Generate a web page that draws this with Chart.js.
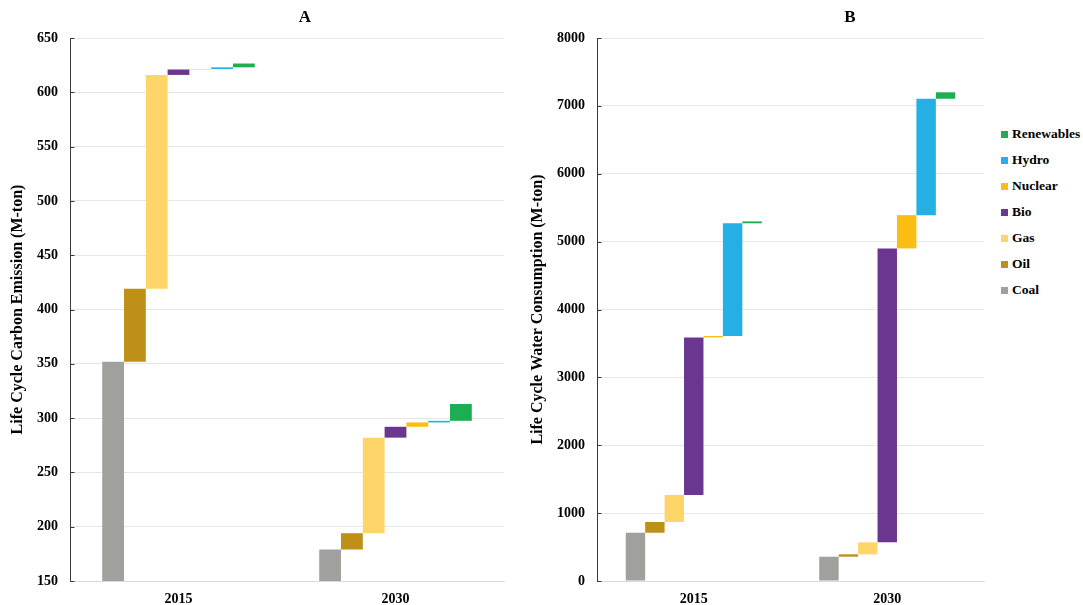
<!DOCTYPE html>
<html>
<head>
<meta charset="utf-8">
<script src="https://cdn.jsdelivr.net/npm/chart.js@4.4.1/dist/chart.umd.min.js"></script>
<style>
  html, body { margin: 0; padding: 0; background: #ffffff; }
  #page { position: relative; width: 1083px; height: 605px; overflow: hidden; }
  #panelA { position: absolute; left: 0; top: 0; width: 520px; height: 605px; }
  #panelB { position: absolute; left: 520px; top: 0; width: 480px; height: 605px; }
  #legend { position: absolute; left: 1001px; top: 0; width: 82px; height: 605px;
            font-family: "Liberation Serif", "Times New Roman", serif; font-weight: bold;
            font-size: 13.5px; color: #000; }
  .item { position: absolute; left: 0; height: 16px; line-height: 16px; white-space: nowrap; }
  .swatch { position: absolute; left: 0; top: 5px; width: 7px; height: 7px; }
  .label { position: absolute; left: 11px; top: 0; }
</style>
</head>
<body>
<div id="page">
  <div id="panelA"><canvas id="chartA"></canvas></div>
  <div id="panelB"><canvas id="chartB"></canvas></div>
  <div id="legend"></div>
</div>
<script>
// Years on the category axis
const categories = ['2015', '2030'];

// Energy sources, stacked bottom-up in each waterfall
const sources = ['Coal', 'Oil', 'Gas', 'Bio', 'Nuclear', 'Hydro', 'Renewables'];
const sourceColors = ['#a0a19f', '#bf9017', '#fdd568', '#6b3690', '#fbbd14', '#24afe5', '#1dad52'];

// Life cycle carbon emission (M-ton): running total reached after each source
const carbonLevels2015 = [352, 419, 616, 621, 621.4, 623, 626.5];
const carbonLevels2030 = [179, 194, 282, 292, 296, 297.5, 313];

// Life cycle water consumption (M-ton): running total reached after each source
const waterLevels2015 = [711, 869, 1268, 3589, 3610, 5270, 5298];
const waterLevels2030 = [358, 393, 570, 4900, 5390, 7105, 7200];

// Value axis ranges: [min, max, step]
const carbonAxis = [150, 650, 50];
const waterAxis = [0, 8000, 1000];

const SERIF = '"Liberation Serif", "Times New Roman", serif';

// Floating [start, end] segments for one source across both years
function segments(levelsByYear, i, base) {
  return levelsByYear.map(levels => [i === 0 ? base : levels[i - 1], levels[i]]);
}

function buildDatasets(levels2015, levels2030, base) {
  return sources.map((name, i) => ({
    label: name,
    data: segments([levels2015, levels2030], i, base),
    backgroundColor: sourceColors[i],
    borderWidth: 0,
    categoryPercentage: 0.703,
    barPercentage: 1.0
  }));
}

// Panel heading drawn above the plot, plus short inward tick marks on the value axis
const panelDecor = {
  id: 'panelDecor',
  afterDraw(chart, args, opts) {
    const ctx = chart.ctx;
    const y = chart.scales.y;
    ctx.save();
    ctx.strokeStyle = '#3a3a3a';
    ctx.lineWidth = 1;
    const x0 = Math.round(chart.chartArea.left) + 0.5;
    y.ticks.forEach((t, i) => {
      const py = Math.round(y.getPixelForTick(i)) + 0.5;
      ctx.beginPath();
      ctx.moveTo(x0, py);
      ctx.lineTo(x0 + 4, py);
      ctx.stroke();
    });
    ctx.font = 'bold 17px ' + SERIF;
    ctx.fillStyle = '#000';
    ctx.textAlign = 'center';
    ctx.textBaseline = 'middle';
    ctx.fillText(opts.text, opts.x, opts.y);
    ctx.restore();
  }
};

function makeChart(canvasId, datasets, axis, yTitle, axisWidth, titleText, titleX) {
  return new Chart(document.getElementById(canvasId), {
    type: 'bar',
    data: { labels: categories, datasets },
    plugins: [panelDecor],
    options: {
      responsive: true,
      maintainAspectRatio: false,
      devicePixelRatio: 1,
      animation: false,
      layout: { padding: { top: 38, right: 16, bottom: 0, left: 0 } },
      plugins: {
        legend: { display: false },
        tooltip: { enabled: false },
        panelDecor: { text: titleText, x: titleX, y: 18 }
      },
      scales: {
        x: {
          grid: { display: false },
          border: { display: true, color: '#d9d9d9', width: 1 },
          ticks: { color: '#000', padding: 2, font: { family: SERIF, size: 14, weight: 'bold' } },
          afterFit(scale) { scale.height = 24; }
        },
        y: {
          min: axis[0],
          max: axis[1],
          grid: { color: '#e6e6e6', lineWidth: 1, drawTicks: false },
          border: { display: true, color: '#3a3a3a', width: 1 },
          ticks: {
            stepSize: axis[2],
            color: '#000',
            padding: 12,
            font: { family: SERIF, size: 14, weight: 'bold' },
            callback: v => String(v)
          },
          title: {
            display: true,
            text: yTitle,
            color: '#000',
            padding: { top: 8, bottom: 0 },
            font: { family: SERIF, size: 16, weight: 'bold' }
          },
          afterFit(scale) { scale.width = axisWidth; }
        }
      }
    }
  });
}

makeChart('chartA',
  buildDatasets(carbonLevels2015, carbonLevels2030, carbonAxis[0]),
  carbonAxis, 'Life Cycle Carbon Emission (M-ton)', 70, 'A', 305);

makeChart('chartB',
  buildDatasets(waterLevels2015, waterLevels2030, waterAxis[0]),
  waterAxis, 'Life Cycle Water Consumption (M-ton)', 77, 'B', 330);

// Legend, listed top-down from the last source to the first
const legendRowTop = 126;
const legendRowGap = 26;
const legend = document.getElementById('legend');
sources.slice().reverse().forEach((name, k) => {
  const color = sourceColors[sources.indexOf(name)];
  const item = document.createElement('div');
  item.className = 'item';
  item.style.top = (legendRowTop + k * legendRowGap) + 'px';
  const sw = document.createElement('div');
  sw.className = 'swatch';
  sw.style.background = color;
  const lb = document.createElement('div');
  lb.className = 'label';
  lb.textContent = name;
  item.appendChild(sw);
  item.appendChild(lb);
  legend.appendChild(item);
});
</script>
</body>
</html>
